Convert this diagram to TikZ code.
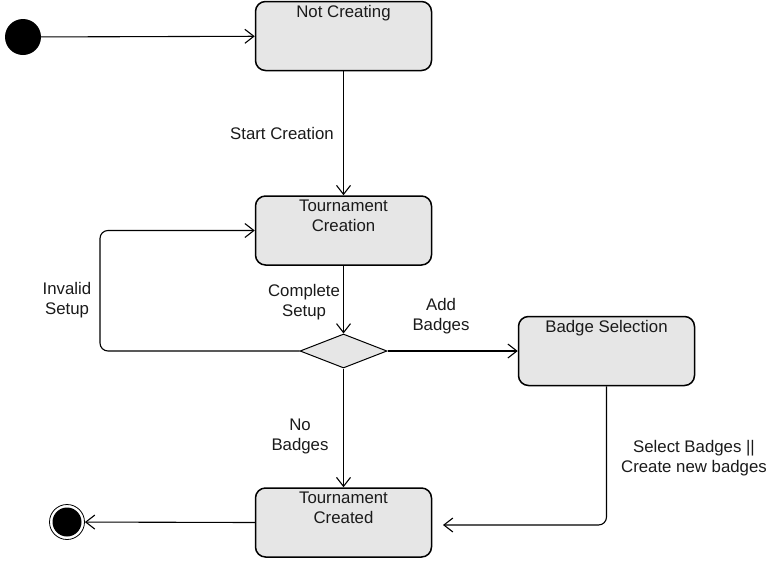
\documentclass[tikz,border=0pt]{standalone}
\usepackage{fontspec}
\setmainfont{Liberation Sans}
\usetikzlibrary{arrows.meta,shapes.geometric}
\definecolor{boxgray}{HTML}{E6E6E6}
\definecolor{txtgray}{HTML}{1A1A1A}
\begin{document}
\begin{tikzpicture}[x=1pt,y=-1pt,
  font=\fontsize{16.8}{20}\selectfont,
  state/.style={draw, fill=boxgray, rounded corners=10pt, line width=1.5pt,
    minimum width=176pt, minimum height=69pt, inner sep=0pt},
  toptext/.style={anchor=north, align=center, inner sep=0pt, text=txtgray, yshift=-4pt},
  lbl/.style={align=center, inner sep=0pt, text=txtgray},
  arr/.style={draw, line width=1.1pt, -{Straight Barb[length=9pt,width=14pt,line width=1.1pt]}},
  decision/.style={diamond, draw, fill=boxgray, line width=1pt, inner sep=0pt,
    minimum width=87pt, minimum height=34pt}]
\useasboundingbox (0,0) rectangle (768,560);

% nodes
\node[circle, fill=black, minimum size=36pt, inner sep=0pt] (start) at (23,37) {};
\node[state, label={[toptext]north:Not Creating}] (nc) at (343.5,36) {};
\node[state, label={[toptext]north:Tournament\\Creation}] (tc) at (343.5,230.5) {};
\node[decision] (dia) at (343.5,351) {};
\node[state, label={[toptext]north:Badge Selection}] (bs) at (606.5,351) {};
\node[state, label={[toptext]north:Tournament\\Created}] (tcd) at (343.5,522.5) {};
\node[circle, draw, line width=0.8pt, fill=white, minimum size=35pt, inner sep=0pt] (endo) at (67,522) {};
\node[circle, fill=black, minimum size=29pt, inner sep=0pt] (endi) at (67,522) {};

\coordinate (c1) at (100,351);
\coordinate (c2) at (100,230.5);
\coordinate (c3) at (606.5,525);
\coordinate (c4) at (443,525);

% connectors
\draw[arr] (start) -- (nc);
\draw[arr] (nc) -- (tc);
\draw[arr] (tc) -- (dia);
\draw[arr, rounded corners=8pt] (dia.west) -- (c1) -- (c2) -- (tc.west);
\draw[arr] (dia.east) -- (bs.west);
\draw[arr] (dia.south) -- (tcd.north);
\draw[arr, rounded corners=8pt] (bs.south) -- (c3) -- (c4);
\draw[arr] (tcd.west) -- (endo);

% labels
\node[lbl] (l1) at (282,133) {Start Creation};
\node[lbl] (l2) at (304,302) {Complete\\Setup};
\node[lbl] (l3) at (67,300) {Invalid\\Setup};
\node[lbl] (l4) at (441,316) {Add\\Badges};
\node[lbl] (l5) at (300,436) {No\\Badges};
\node[lbl] (l6) at (694,458) {Select Badges ||\\Create new badges};
\end{tikzpicture}
\end{document}
